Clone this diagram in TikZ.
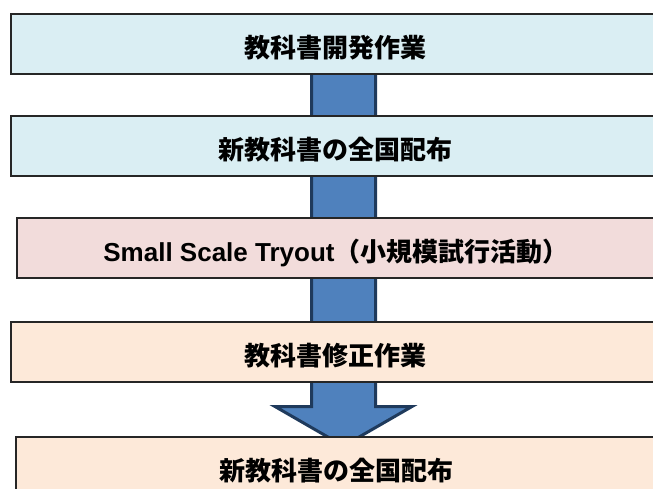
\documentclass[tikz,border=0pt]{standalone}
\usepackage{fontspec}
\setmainfont{Noto Sans CJK JP}
\newfontfamily\latinf{Liberation Sans}
\definecolor{bluebox}{HTML}{DAEEF3}
\definecolor{pinkbox}{HTML}{F2DCDB}
\definecolor{peachbox}{HTML}{FDE9D9}
\definecolor{arrowfill}{HTML}{4F81BD}
\definecolor{arrowedge}{HTML}{1F3A5C}
\tikzset{
  stagebox/.style={draw=black!85, line width=1.3pt, rectangle, inner sep=0pt,
    minimum height=60pt, text height=28pt, text depth=2pt,
    font=\fontsize{26}{30}\selectfont\bfseries, text=black},
  blockarrow/.style={fill=arrowfill, draw=arrowedge, line width=3pt, line join=miter}
}
\begin{document}
\begin{tikzpicture}[x=1pt,y=-1pt]
\useasboundingbox (0,0) rectangle (653,488);
\clip (0,0) rectangle (653,488);
% big block arrow behind the boxes
\coordinate (atip) at (343.5,446);
\draw[blockarrow] (311.5,44) -- (311.5,406.5) -- (275,406.5) -- (atip)
  -- (412,406.5) -- (375.5,406.5) -- (375.5,44) -- cycle;
% boxes
\node[stagebox, fill=bluebox, minimum width=648pt] (b1) at (335,44) {教科書開発作業};
\node[stagebox, fill=bluebox, minimum width=648pt] (b2) at (335,146) {新教科書の全国配布};
\node[stagebox, fill=pinkbox, minimum width=638pt] (b3) at (336,248) {{\latinf\bfseries Small Scale Tryout}（小規模試行活動）};
\node[stagebox, fill=peachbox, minimum width=648pt] (b4) at (335,352) {教科書修正作業};
\node[stagebox, fill=peachbox, minimum width=640pt] (b5) at (336,467) {新教科書の全国配布};
\end{tikzpicture}
\end{document}
